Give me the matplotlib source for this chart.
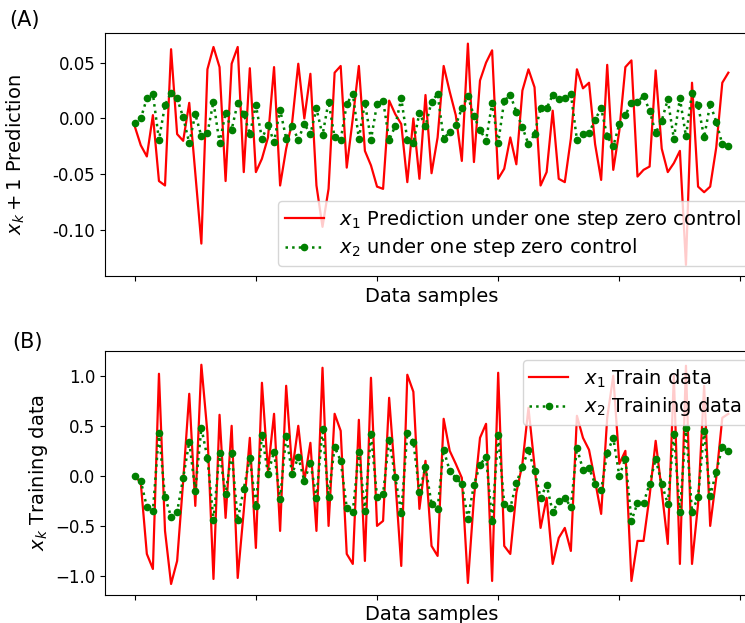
import matplotlib.pyplot as plt
import numpy as np

# panel A : one step prediction under zero control
pred_x1 = [-0.007, -0.024, -0.034, 0.003, -0.056, -0.060, 0.062, -0.014, -0.020, 0.014,
           -0.049, -0.112, 0.044, 0.064, 0.046, -0.056, 0.049, 0.064, -0.048, 0.045,
           -0.048, -0.036, -0.017, 0.046, -0.060, -0.027, -0.003, 0.049, 0.000, 0.040,
           -0.060, -0.097, -0.063, 0.041, 0.047, -0.044, 0.000, 0.047, -0.029, -0.042,
           -0.061, -0.063, 0.016, 0.004, -0.005, -0.057, 0.000, -0.054, 0.021, -0.049,
           -0.017, 0.047, 0.024, 0.003, -0.038, 0.067, -0.039, 0.034, 0.050, 0.061,
           -0.054, -0.045, -0.017, -0.041, 0.025, 0.044, 0.028, -0.060, -0.048, 0.007,
           -0.054, -0.057, -0.018, 0.044, 0.027, 0.032, -0.023, -0.055, 0.048, -0.046,
           -0.011, 0.046, 0.052, -0.052, -0.046, -0.043, 0.043, -0.027, -0.048, -0.040,
           -0.029, -0.131, 0.032, -0.061, -0.066, -0.061, -0.026, 0.032, 0.041]
pred_x2 = [-0.004, 0.000, 0.018, 0.022, -0.019, 0.012, 0.023, 0.018, 0.001, -0.022,
           0.004, -0.016, -0.013, 0.015, -0.022, 0.005, -0.010, 0.014, 0.004, -0.014,
           0.012, -0.018, -0.006, -0.021, 0.008, -0.018, -0.007, -0.019, -0.005, -0.014,
           0.009, -0.015, 0.015, -0.017, -0.019, 0.013, 0.022, -0.018, 0.014, -0.019,
           0.013, 0.016, -0.019, -0.007, 0.018, -0.019, -0.022, 0.005, -0.007, 0.015,
           0.022, -0.018, -0.012, -0.006, 0.009, 0.020, 0.002, -0.010, -0.020, 0.014,
           -0.022, 0.016, 0.021, 0.006, -0.008, -0.023, -0.014, 0.009, 0.009, 0.021,
           0.017, 0.018, 0.022, -0.019, -0.014, -0.013, -0.001, 0.009, -0.016, -0.025,
           -0.005, 0.003, 0.014, 0.015, 0.020, 0.007, -0.013, -0.002, 0.017, -0.018,
           0.018, -0.016, 0.023, 0.012, -0.017, 0.013, -0.003, -0.023, -0.025]

# panel B : training data
train_x1 = [0.00, -0.07, -0.78, -0.93, 1.02, -0.55, -1.08, -0.85, -0.05, 0.82,
            -0.30, 1.11, 0.43, -1.03, 0.61, -0.42, 0.50, -1.02, -0.35, 0.38,
            -0.72, 0.93, 0.05, 0.62, -0.55, 0.90, 0.05, 0.50, -0.05, 0.33,
            -0.55, 1.08, -0.50, 0.62, 0.45, -0.78, -0.88, 0.56, -0.85, 0.98,
            -0.50, -0.45, 0.78, -0.03, -0.90, 1.01, 0.84, -0.33, 0.15, -0.70,
            -0.80, 0.57, 0.25, 0.12, -0.02, -1.07, -0.22, 0.38, 0.52, -1.05,
            1.03, -0.70, -0.78, -0.17, 0.12, 0.68, 0.10, -0.52, -0.22, -0.88,
            -0.62, -0.52, -0.75, 0.60, 0.38, 0.26, -0.05, -0.38, 0.58, 1.00,
            0.12, 0.25, -1.05, -0.65, -0.65, -0.20, 0.35, -0.15, -0.68, 1.00,
            -0.88, 1.10, -0.88, -0.28, 0.90, -0.50, -0.02, 0.58, 0.62]
train_x2 = [0.00, -0.05, -0.31, -0.35, 0.43, -0.21, -0.41, -0.36, -0.02, 0.34,
            -0.15, 0.48, 0.18, -0.44, 0.23, -0.18, 0.23, -0.44, -0.13, 0.18,
            -0.30, 0.41, 0.02, 0.24, -0.23, 0.40, 0.02, 0.19, -0.05, 0.13,
            -0.22, 0.47, -0.21, 0.29, 0.15, -0.32, -0.36, 0.24, -0.35, 0.42,
            -0.21, -0.18, 0.36, -0.01, -0.37, 0.43, 0.34, -0.16, 0.09, -0.28,
            -0.33, 0.26, 0.05, -0.02, -0.08, -0.43, -0.09, 0.11, 0.19, -0.45,
            0.41, -0.28, -0.32, -0.07, 0.09, 0.26, 0.05, -0.22, -0.09, -0.36,
            -0.25, -0.22, -0.31, 0.28, 0.06, 0.08, -0.08, -0.14, 0.23, 0.38,
            0.00, 0.17, -0.45, -0.27, -0.27, -0.08, 0.17, -0.08, -0.28, 0.42,
            -0.36, 0.48, -0.36, -0.21, 0.45, -0.20, 0.04, 0.29, 0.25]

yticks_a = [-0.10, -0.05, 0.00, 0.05]
yticks_b = [-1.0, -0.5, 0.0, 0.5, 1.0]
xticks = [0, 20, 40, 60, 80, 100]

n = np.arange(len(pred_x1))

fig = plt.figure(figsize=(7.45, 6.23), dpi=100)

# axes run past the right edge, the reference is cropped there
ax1 = fig.add_axes([0.141, 0.557, 0.8765, 0.390])
ax1.plot(n, pred_x1, 'r-', lw=1.6, label='$x_1$ Prediction under one step zero control')
ax1.plot(n, pred_x2, color='g', ls=':', lw=1.8, marker='o', ms=4.5,
         label='$x_2$ under one step zero control')
ax1.set_xlim(-4.9, 102.9)
ax1.set_ylim(-0.141, 0.0765)
ax1.set_yticks(yticks_a)
ax1.set_yticklabels(['%.2f' % v for v in yticks_a])
ax1.set_xticks(xticks)
ax1.set_xticklabels([])
ax1.tick_params(labelsize=12)
ax1.set_xlabel('Data samples', fontsize=14, labelpad=1)
ax1.set_ylabel('$x_k + 1$ Prediction', fontsize=14)
ax1.yaxis.set_label_coords(-0.119, 0.5)
ax1.legend(loc='lower right', fontsize=14, labelspacing=0.3, borderpad=0.35)

ax2 = fig.add_axes([0.141, 0.045, 0.8765, 0.392])
ax2.plot(n, train_x1, 'r-', lw=1.6, label='$x_1$ Train data')
ax2.plot(n, train_x2, color='g', ls=':', lw=1.8, marker='o', ms=4.5,
         label='$x_2$ Training data')
ax2.set_xlim(-4.9, 102.9)
ax2.set_ylim(-1.19, 1.25)
ax2.set_yticks(yticks_b)
ax2.set_xticks(xticks)
ax2.set_xticklabels([])
ax2.tick_params(labelsize=12)
ax2.set_xlabel('Data samples', fontsize=14, labelpad=0)
ax2.set_ylabel('$x_k$ Training data', fontsize=14)
ax2.legend(loc='upper right', fontsize=14, labelspacing=0.3, borderpad=0.35)

fig.text(0.012, 0.968, '(A)', fontsize=15, va='center')
fig.text(0.017, 0.451, '(B)', fontsize=15, va='center')

fig.savefig('out.png', dpi=100)
